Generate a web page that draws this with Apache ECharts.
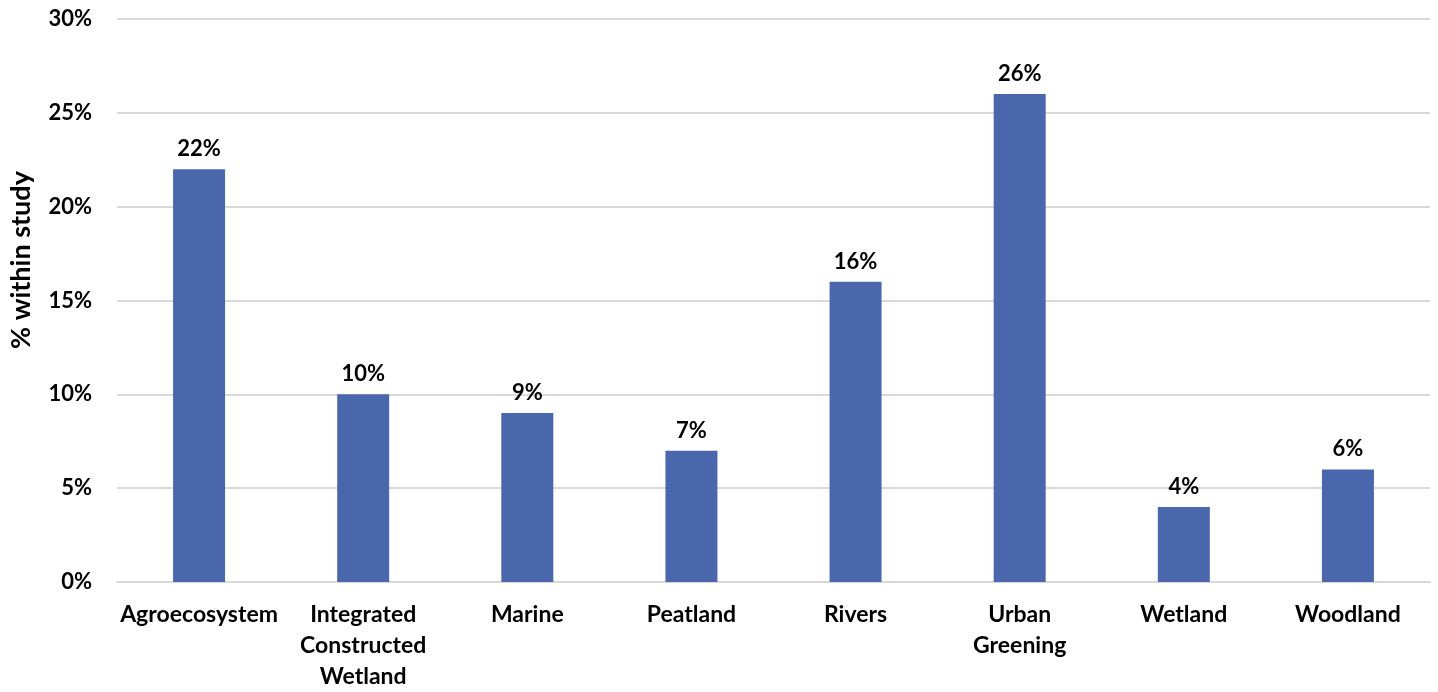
<!DOCTYPE html>
<html><head><meta charset="utf-8">
<script src="https://cdn.jsdelivr.net/npm/echarts@6/dist/echarts.min.js"></script>
<style>html,body{margin:0;padding:0;background:#fff}#c{width:1438px;height:692px}</style>
</head><body><div id="c"></div>
<script>
const categories = ["Agroecosystem", "Integrated\nConstructed\nWetland", "Marine", "Peatland", "Rivers", "Urban\nGreening", "Wetland", "Woodland"];
const values = [22, 10, 9, 7, 16, 26, 4, 6];
const yTicks = [0, 5, 10, 15, 20, 25, 30];
const yTitle = "% within study";
const FONT = "Lato";
const chart = echarts.init(document.getElementById('c'));
chart.setOption({
  animation: false,
  grid: {left: 117, right: 8, top: 19, bottom: 107, containLabel: false},
  xAxis: {
    type: 'category', data: categories,
    axisLine: {lineStyle: {color: '#d9d9d9', width: 2}},
    axisTick: {show: false},
    axisLabel: {color: '#000', fontFamily: FONT, fontWeight: 'bold', fontSize: 23, lineHeight: 31, margin: 17, interval: 0}
  },
  yAxis: {
    type: 'value', min: yTicks[0], max: yTicks[yTicks.length-1], interval: 5,
    axisLine: {show: false}, axisTick: {show: false},
    splitLine: {lineStyle: {color: '#d9d9d9', width: 2}},
    axisLabel: {color: '#000', fontFamily: FONT, fontWeight: 'bold', fontSize: 22, margin: 25, formatter: v => v + '%'}
  },
  series: [{
    type: 'bar', data: values, barWidth: 52, itemStyle: {color: '#4a67ae'},
    label: {show: true, position: 'top', distance: 9, color: '#000', fontFamily: FONT, fontWeight: 'bold', fontSize: 22, formatter: p => p.value + '%'}
  }],
  graphic: [{
    type: 'text', rotation: Math.PI/2,
    x: 21, y: 260,
    style: {text: yTitle, fontFamily: FONT, fontWeight: 'bold', fontSize: 27, fill: '#000', textAlign: 'center', textVerticalAlign: 'middle'}
  }]
});
</script></body></html>
